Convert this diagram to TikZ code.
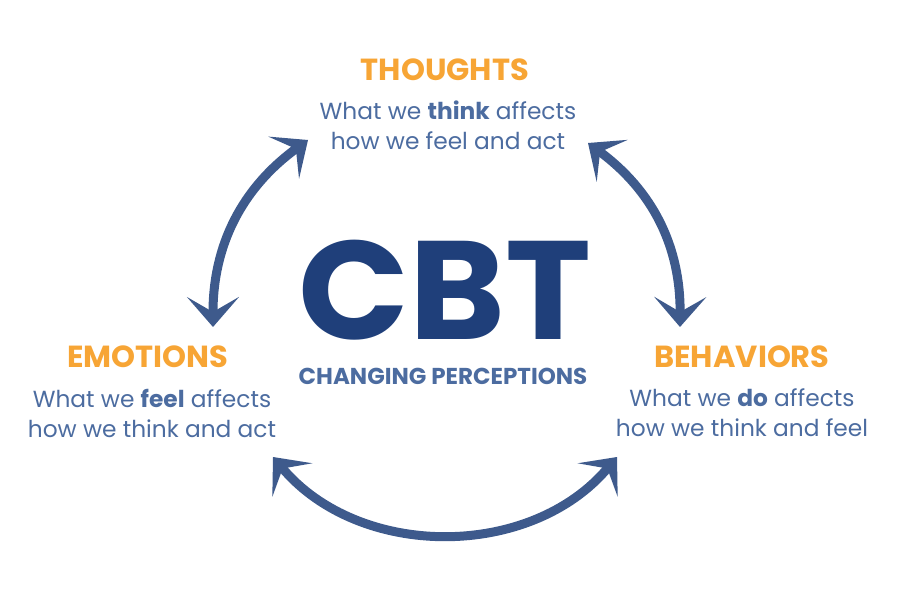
\documentclass[tikz,border=0pt]{standalone}
\usepackage{fontspec}
\usetikzlibrary{arrows.meta}
\newfontfamily\headfont{Poppins}
\definecolor{orng}{HTML}{F7A535}
\definecolor{navy}{HTML}{1F3F7A}
\definecolor{arrowblue}{HTML}{3E5A8C}
\definecolor{bodyblue}{HTML}{4C6CA0}
\tikzset{
  head/.style={text=orng, font=\headfont\bfseries\fontsize{30.5}{34}\selectfont, inner sep=0pt},
  body/.style={text=bodyblue, font=\headfont\fontsize{23.3}{30}\selectfont, align=center, inner sep=0pt},
  cyc/.style={draw=arrowblue, line width=9pt, {Stealth[length=30pt,width=52pt,inset=15pt]}-{Stealth[length=30pt,width=52pt,inset=15pt]}},
}
\begin{document}
\begin{tikzpicture}[x=1pt,y=1pt]
\useasboundingbox (0,0) rectangle (900,600);
\node[head] (thoughts) at (445,530) {THOUGHTS};
\node[body] (thoughtsb) at (448,475) {What we \textbf{think} affects\\how we feel and act};
\node[head] (emotions) at (148,243) {EMOTIONS};
\node[body] (emotionsb) at (152,187) {What we \textbf{feel} affects\\how we think and act};
\node[head] (behaviors) at (742,243) {BEHAVIORS};
\node[body] (behaviorsb) at (742,187) {What we \textbf{do} affects\\how we think and feel};
\node[text=navy, font=\headfont\bfseries\fontsize{140}{140}\selectfont, inner sep=0pt, text height=98pt, text depth=0pt, anchor=south] (cbt) at (445,260) {\scalebox{1.04}[1]{CBT}};
\node[text=bodyblue, font=\headfont\bfseries\fontsize{23}{26}\selectfont, inner sep=0pt] (sub) at (443,224) {CHANGING PERCEPTIONS};
\coordinate (lb) at (213,273);
\coordinate (lt) at (308,460);
\coordinate (rt) at (588,457);
\coordinate (rb) at (680,273);
\coordinate (bl) at (273,143);
\coordinate (br) at (617,143);
\draw[cyc] (lb) to[bend left=27] (lt);
\draw[cyc] (rb) to[bend right=27] (rt);
\draw[cyc] (bl) to[bend right=50] (br);
\end{tikzpicture}
\end{document}
